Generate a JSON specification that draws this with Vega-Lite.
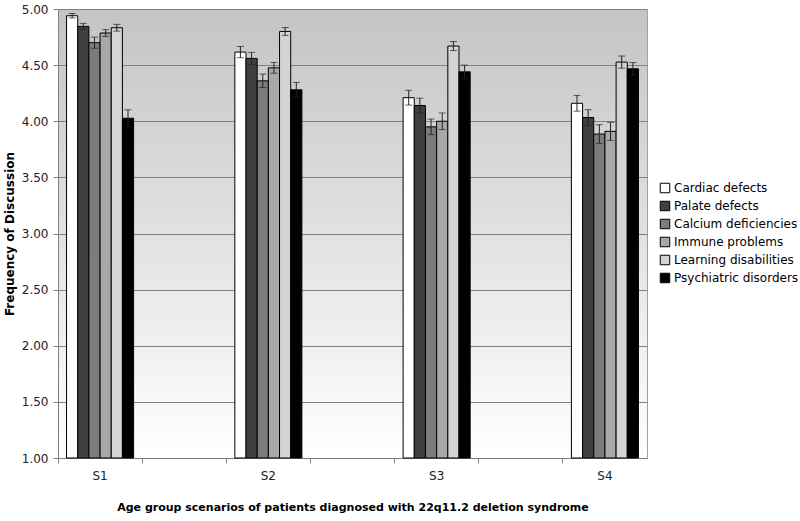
{
  "$schema": "https://vega.github.io/schema/vega-lite/v6.json",
  "autosize": "none",
  "width": 589,
  "height": 449,
  "padding": {"left": 58, "top": 9, "right": 153, "bottom": 63},
  "background": "white",
  "config": {
    "font": "DejaVu Sans",
    "view": {
      "stroke": "#a0a0a0",
      "strokeWidth": 1,
      "fill": {"gradient": "linear", "x1": 0, "y1": 0, "x2": 0, "y2": 1, "stops": [{"offset": 0, "color": "#c4c4c4"}, {"offset": 1, "color": "#ffffff"}]}
    }
  },
  "data": {
    "values": [
      {"g": "S1", "s": "Cardiac defects", "v": 4.94, "lo": 4.92, "hi": 4.96},
      {"g": "S1", "s": "Palate defects", "v": 4.845, "lo": 4.818, "hi": 4.872},
      {"g": "S1", "s": "Calcium deficiencies", "v": 4.70, "lo": 4.65, "hi": 4.75},
      {"g": "S1", "s": "Immune problems", "v": 4.786, "lo": 4.756, "hi": 4.816},
      {"g": "S1", "s": "Learning disabilities", "v": 4.833, "lo": 4.803, "hi": 4.863},
      {"g": "S1", "s": "Psychiatric disorders", "v": 4.027, "lo": 3.952, "hi": 4.102},
      {"g": "S2", "s": "Cardiac defects", "v": 4.616, "lo": 4.566, "hi": 4.666},
      {"g": "S2", "s": "Palate defects", "v": 4.56, "lo": 4.506, "hi": 4.614},
      {"g": "S2", "s": "Calcium deficiencies", "v": 4.36, "lo": 4.30, "hi": 4.42},
      {"g": "S2", "s": "Immune problems", "v": 4.476, "lo": 4.428, "hi": 4.524},
      {"g": "S2", "s": "Learning disabilities", "v": 4.80, "lo": 4.765, "hi": 4.835},
      {"g": "S2", "s": "Psychiatric disorders", "v": 4.28, "lo": 4.214, "hi": 4.346},
      {"g": "S3", "s": "Cardiac defects", "v": 4.21, "lo": 4.144, "hi": 4.276},
      {"g": "S3", "s": "Palate defects", "v": 4.14, "lo": 4.074, "hi": 4.206},
      {"g": "S3", "s": "Calcium deficiencies", "v": 3.95, "lo": 3.88, "hi": 4.02},
      {"g": "S3", "s": "Immune problems", "v": 4.00, "lo": 3.926, "hi": 4.074},
      {"g": "S3", "s": "Learning disabilities", "v": 4.67, "lo": 4.63, "hi": 4.71},
      {"g": "S3", "s": "Psychiatric disorders", "v": 4.44, "lo": 4.38, "hi": 4.50},
      {"g": "S4", "s": "Cardiac defects", "v": 4.16, "lo": 4.09, "hi": 4.23},
      {"g": "S4", "s": "Palate defects", "v": 4.033, "lo": 3.963, "hi": 4.103},
      {"g": "S4", "s": "Calcium deficiencies", "v": 3.886, "lo": 3.803, "hi": 3.969},
      {"g": "S4", "s": "Immune problems", "v": 3.91, "lo": 3.83, "hi": 3.99},
      {"g": "S4", "s": "Learning disabilities", "v": 4.527, "lo": 4.473, "hi": 4.581},
      {"g": "S4", "s": "Psychiatric disorders", "v": 4.467, "lo": 4.411, "hi": 4.523}
    ]
  },
  "encoding": {
    "x": {
      "field": "g",
      "type": "nominal",
      "scale": {"domain": ["S1", "g1", "S2", "g2", "S3", "g3", "S4"], "paddingInner": 0, "paddingOuter": 0},
      "axis": {
        "title": "Age group scenarios of patients diagnosed with 22q11.2 deletion syndrome",
        "titleFontSize": 11,
        "titleFontWeight": "bold",
        "titleColor": "#000000",
        "titlePadding": 20,
        "labelAngle": 0,
        "labelFontSize": 12,
        "labelColor": "#222222",
        "labelPadding": 7,
        "labelExpr": "indexof(datum.value, 'S') == 0 ? datum.value : ''",
        "bandPosition": 0,
        "tickColor": "#808080",
        "tickSize": 5,
        "domainColor": "#808080",
        "grid": false
      }
    },
    "xOffset": {
      "field": "s",
      "type": "nominal",
      "sort": ["Cardiac defects", "Palate defects", "Calcium deficiencies", "Immune problems", "Learning disabilities", "Psychiatric disorders"],
      "scale": {"paddingInner": 0, "paddingOuter": 0.765}
    }
  },
  "layer": [
    {
      "mark": {"type": "bar", "stroke": "#000000", "strokeWidth": 1},
      "encoding": {
        "y": {
          "field": "v",
          "type": "quantitative",
          "scale": {"domain": [1, 5], "zero": false, "nice": false},
          "axis": {
            "title": "Frequency of Discussion",
            "titleFontSize": 12,
            "titleFontWeight": "bold",
            "titleColor": "#000000",
            "titlePadding": 5,
            "values": [1, 1.5, 2, 2.5, 3, 3.5, 4, 4.5, 5],
            "format": ".2f",
            "labelFontSize": 12,
            "labelColor": "#222222",
            "labelPadding": 5,
            "tickColor": "#808080",
            "tickSize": 5,
            "domainColor": "#808080",
            "grid": true,
            "gridColor": "#808080",
            "gridWidth": 1
          }
        },
        "y2": {"datum": 1},
        "fill": {
          "field": "s",
          "type": "nominal",
          "sort": ["Cardiac defects", "Palate defects", "Calcium deficiencies", "Immune problems", "Learning disabilities", "Psychiatric disorders"],
          "scale": {"range": ["#ffffff", "#404040", "#7c7c7c", "#a8a8a8", "#d4d4d4", "#000000"]},
          "legend": {
            "title": null,
            "orient": "none",
            "legendX": 601,
            "legendY": 173,
            "symbolType": "square",
            "symbolSize": 90,
            "symbolStrokeColor": "#000000",
            "symbolStrokeWidth": 1,
            "labelFontSize": 12,
            "labelColor": "#000000",
            "labelOffset": 3,
            "rowPadding": 4
          }
        }
      }
    },
    {
      "mark": {"type": "rule", "color": "#222222", "strokeWidth": 1},
      "encoding": {
        "y": {"field": "lo", "type": "quantitative"},
        "y2": {"field": "hi"}
      }
    },
    {
      "mark": {"type": "tick", "color": "#222222", "thickness": 1, "size": 7, "orient": "horizontal"},
      "encoding": {
        "y": {"field": "lo", "type": "quantitative"}
      }
    },
    {
      "mark": {"type": "tick", "color": "#222222", "thickness": 1, "size": 7, "orient": "horizontal"},
      "encoding": {
        "y": {"field": "hi", "type": "quantitative"}
      }
    }
  ]
}
